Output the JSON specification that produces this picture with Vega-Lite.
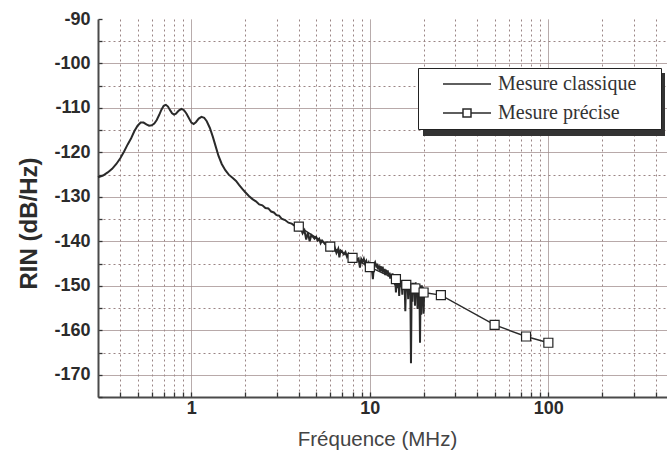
{
  "$schema": "https://vega.github.io/schema/vega-lite/v6.json",
  "width": 569,
  "height": 378,
  "autosize": {"type": "none"},
  "padding": {"left": 98, "top": 19, "right": 0, "bottom": 70},
  "background": "white",
  "config": {"view": {"stroke": null}},
  "datasets": {
    "rin": [
      {"freq": 0.3, "rin": -125.6, "series": "Mesure classique"},
      {"freq": 0.32, "rin": -125.2, "series": "Mesure classique"},
      {"freq": 0.34, "rin": -124.5, "series": "Mesure classique"},
      {"freq": 0.36, "rin": -123.7, "series": "Mesure classique"},
      {"freq": 0.38, "rin": -122.6, "series": "Mesure classique"},
      {"freq": 0.40, "rin": -121.3, "series": "Mesure classique"},
      {"freq": 0.42, "rin": -119.8, "series": "Mesure classique"},
      {"freq": 0.44, "rin": -118.2, "series": "Mesure classique"},
      {"freq": 0.46, "rin": -116.8, "series": "Mesure classique"},
      {"freq": 0.48, "rin": -115.2, "series": "Mesure classique"},
      {"freq": 0.50, "rin": -114.0, "series": "Mesure classique"},
      {"freq": 0.52, "rin": -113.3, "series": "Mesure classique"},
      {"freq": 0.54, "rin": -113.3, "series": "Mesure classique"},
      {"freq": 0.56, "rin": -113.7, "series": "Mesure classique"},
      {"freq": 0.58, "rin": -114.0, "series": "Mesure classique"},
      {"freq": 0.60, "rin": -113.9, "series": "Mesure classique"},
      {"freq": 0.62, "rin": -113.5, "series": "Mesure classique"},
      {"freq": 0.64, "rin": -112.7, "series": "Mesure classique"},
      {"freq": 0.66, "rin": -111.6, "series": "Mesure classique"},
      {"freq": 0.68, "rin": -110.4, "series": "Mesure classique"},
      {"freq": 0.70, "rin": -109.5, "series": "Mesure classique"},
      {"freq": 0.72, "rin": -109.3, "series": "Mesure classique"},
      {"freq": 0.74, "rin": -109.7, "series": "Mesure classique"},
      {"freq": 0.76, "rin": -110.5, "series": "Mesure classique"},
      {"freq": 0.78, "rin": -111.2, "series": "Mesure classique"},
      {"freq": 0.80, "rin": -111.5, "series": "Mesure classique"},
      {"freq": 0.82, "rin": -111.3, "series": "Mesure classique"},
      {"freq": 0.85, "rin": -110.6, "series": "Mesure classique"},
      {"freq": 0.88, "rin": -110.2, "series": "Mesure classique"},
      {"freq": 0.91, "rin": -110.5, "series": "Mesure classique"},
      {"freq": 0.94, "rin": -111.3, "series": "Mesure classique"},
      {"freq": 0.97, "rin": -112.3, "series": "Mesure classique"},
      {"freq": 1.00, "rin": -113.3, "series": "Mesure classique"},
      {"freq": 1.03, "rin": -113.6, "series": "Mesure classique"},
      {"freq": 1.06, "rin": -113.2, "series": "Mesure classique"},
      {"freq": 1.10, "rin": -112.4, "series": "Mesure classique"},
      {"freq": 1.14, "rin": -112.0, "series": "Mesure classique"},
      {"freq": 1.18, "rin": -112.2, "series": "Mesure classique"},
      {"freq": 1.22, "rin": -113.0, "series": "Mesure classique"},
      {"freq": 1.27, "rin": -114.5, "series": "Mesure classique"},
      {"freq": 1.32, "rin": -116.5, "series": "Mesure classique"},
      {"freq": 1.37, "rin": -118.7, "series": "Mesure classique"},
      {"freq": 1.42, "rin": -120.8, "series": "Mesure classique"},
      {"freq": 1.48, "rin": -122.6, "series": "Mesure classique"},
      {"freq": 1.55, "rin": -124.0, "series": "Mesure classique"},
      {"freq": 1.62, "rin": -125.0, "series": "Mesure classique"},
      {"freq": 1.70, "rin": -125.7, "series": "Mesure classique"},
      {"freq": 1.78, "rin": -126.4, "series": "Mesure classique"},
      {"freq": 1.85, "rin": -127.3, "series": "Mesure classique"},
      {"freq": 1.93, "rin": -128.2, "series": "Mesure classique"},
      {"freq": 2.0, "rin": -128.9, "series": "Mesure classique"},
      {"freq": 2.1, "rin": -129.8, "series": "Mesure classique"},
      {"freq": 2.2, "rin": -130.5, "series": "Mesure classique"},
      {"freq": 2.3, "rin": -131.0, "series": "Mesure classique"},
      {"freq": 2.4, "rin": -131.7, "series": "Mesure classique"},
      {"freq": 2.5, "rin": -131.9, "series": "Mesure classique"},
      {"freq": 2.6, "rin": -132.5, "series": "Mesure classique"},
      {"freq": 2.7, "rin": -132.6, "series": "Mesure classique"},
      {"freq": 2.8, "rin": -133.3, "series": "Mesure classique"},
      {"freq": 2.9, "rin": -133.5, "series": "Mesure classique"},
      {"freq": 3.0, "rin": -134.1, "series": "Mesure classique"},
      {"freq": 3.1, "rin": -134.2, "series": "Mesure classique"},
      {"freq": 3.2, "rin": -134.9, "series": "Mesure classique"},
      {"freq": 3.35, "rin": -135.2, "series": "Mesure classique"},
      {"freq": 3.5, "rin": -135.8, "series": "Mesure classique"},
      {"freq": 3.65, "rin": -136.0, "series": "Mesure classique"},
      {"freq": 3.8, "rin": -136.5, "series": "Mesure classique"},
      {"freq": 3.95, "rin": -136.8, "series": "Mesure classique"},
      {"freq": 4.1, "rin": -137.0, "series": "Mesure classique"},
      {"freq": 4.2, "rin": -138.2, "series": "Mesure classique"},
      {"freq": 4.3, "rin": -137.5, "series": "Mesure classique"},
      {"freq": 4.4, "rin": -139.6, "series": "Mesure classique"},
      {"freq": 4.5, "rin": -138.0, "series": "Mesure classique"},
      {"freq": 4.6, "rin": -140.0, "series": "Mesure classique"},
      {"freq": 4.7, "rin": -138.6, "series": "Mesure classique"},
      {"freq": 4.8, "rin": -139.0, "series": "Mesure classique"},
      {"freq": 4.9, "rin": -139.4, "series": "Mesure classique"},
      {"freq": 5.0, "rin": -139.0, "series": "Mesure classique"},
      {"freq": 5.1, "rin": -139.8, "series": "Mesure classique"},
      {"freq": 5.2, "rin": -139.4, "series": "Mesure classique"},
      {"freq": 5.3, "rin": -140.4, "series": "Mesure classique"},
      {"freq": 5.4, "rin": -139.8, "series": "Mesure classique"},
      {"freq": 5.5, "rin": -140.2, "series": "Mesure classique"},
      {"freq": 5.6, "rin": -140.6, "series": "Mesure classique"},
      {"freq": 5.75, "rin": -140.3, "series": "Mesure classique"},
      {"freq": 5.9, "rin": -141.1, "series": "Mesure classique"},
      {"freq": 6.05, "rin": -140.8, "series": "Mesure classique"},
      {"freq": 6.2, "rin": -142.0, "series": "Mesure classique"},
      {"freq": 6.35, "rin": -141.3, "series": "Mesure classique"},
      {"freq": 6.5, "rin": -142.6, "series": "Mesure classique"},
      {"freq": 6.65, "rin": -141.7, "series": "Mesure classique"},
      {"freq": 6.75, "rin": -143.6, "series": "Mesure classique"},
      {"freq": 6.85, "rin": -142.0, "series": "Mesure classique"},
      {"freq": 7.0, "rin": -142.3, "series": "Mesure classique"},
      {"freq": 7.15, "rin": -142.9, "series": "Mesure classique"},
      {"freq": 7.3, "rin": -142.4, "series": "Mesure classique"},
      {"freq": 7.45, "rin": -143.5, "series": "Mesure classique"},
      {"freq": 7.6, "rin": -142.8, "series": "Mesure classique"},
      {"freq": 7.75, "rin": -143.4, "series": "Mesure classique"},
      {"freq": 7.9, "rin": -143.9, "series": "Mesure classique"},
      {"freq": 8.05, "rin": -143.2, "series": "Mesure classique"},
      {"freq": 8.2, "rin": -144.5, "series": "Mesure classique"},
      {"freq": 8.35, "rin": -143.6, "series": "Mesure classique"},
      {"freq": 8.5, "rin": -144.2, "series": "Mesure classique"},
      {"freq": 8.65, "rin": -143.9, "series": "Mesure classique"},
      {"freq": 8.8, "rin": -145.9, "series": "Mesure classique"},
      {"freq": 8.95, "rin": -144.0, "series": "Mesure classique"},
      {"freq": 9.1, "rin": -144.6, "series": "Mesure classique"},
      {"freq": 9.25, "rin": -143.9, "series": "Mesure classique"},
      {"freq": 9.4, "rin": -145.0, "series": "Mesure classique"},
      {"freq": 9.55, "rin": -144.4, "series": "Mesure classique"},
      {"freq": 9.7, "rin": -145.4, "series": "Mesure classique"},
      {"freq": 9.85, "rin": -144.8, "series": "Mesure classique"},
      {"freq": 10.0, "rin": -145.9, "series": "Mesure classique"},
      {"freq": 10.2, "rin": -145.0, "series": "Mesure classique"},
      {"freq": 10.4, "rin": -148.5, "series": "Mesure classique"},
      {"freq": 10.55, "rin": -145.2, "series": "Mesure classique"},
      {"freq": 10.7, "rin": -144.7, "series": "Mesure classique"},
      {"freq": 10.9, "rin": -145.9, "series": "Mesure classique"},
      {"freq": 11.0, "rin": -145.0, "series": "Mesure classique"},
      {"freq": 11.1, "rin": -146.3, "series": "Mesure classique"},
      {"freq": 11.3, "rin": -145.4, "series": "Mesure classique"},
      {"freq": 11.4, "rin": -146.8, "series": "Mesure classique"},
      {"freq": 11.5, "rin": -145.6, "series": "Mesure classique"},
      {"freq": 11.7, "rin": -146.5, "series": "Mesure classique"},
      {"freq": 11.8, "rin": -145.7, "series": "Mesure classique"},
      {"freq": 11.9, "rin": -147.0, "series": "Mesure classique"},
      {"freq": 12.1, "rin": -146.2, "series": "Mesure classique"},
      {"freq": 12.2, "rin": -147.6, "series": "Mesure classique"},
      {"freq": 12.3, "rin": -146.4, "series": "Mesure classique"},
      {"freq": 12.5, "rin": -147.3, "series": "Mesure classique"},
      {"freq": 12.6, "rin": -146.5, "series": "Mesure classique"},
      {"freq": 12.7, "rin": -147.9, "series": "Mesure classique"},
      {"freq": 12.9, "rin": -147.0, "series": "Mesure classique"},
      {"freq": 13.0, "rin": -148.4, "series": "Mesure classique"},
      {"freq": 13.1, "rin": -147.3, "series": "Mesure classique"},
      {"freq": 13.3, "rin": -148.1, "series": "Mesure classique"},
      {"freq": 13.4, "rin": -147.2, "series": "Mesure classique"},
      {"freq": 13.5, "rin": -148.7, "series": "Mesure classique"},
      {"freq": 13.7, "rin": -149.3, "series": "Mesure classique"},
      {"freq": 13.85, "rin": -147.8, "series": "Mesure classique"},
      {"freq": 14.0, "rin": -151.5, "series": "Mesure classique"},
      {"freq": 14.15, "rin": -148.0, "series": "Mesure classique"},
      {"freq": 14.3, "rin": -150.5, "series": "Mesure classique"},
      {"freq": 14.45, "rin": -148.3, "series": "Mesure classique"},
      {"freq": 14.6, "rin": -152.3, "series": "Mesure classique"},
      {"freq": 14.75, "rin": -148.6, "series": "Mesure classique"},
      {"freq": 14.9, "rin": -150.3, "series": "Mesure classique"},
      {"freq": 15.05, "rin": -148.7, "series": "Mesure classique"},
      {"freq": 15.2, "rin": -152.0, "series": "Mesure classique"},
      {"freq": 15.35, "rin": -148.7, "series": "Mesure classique"},
      {"freq": 15.5, "rin": -150.6, "series": "Mesure classique"},
      {"freq": 15.65, "rin": -148.9, "series": "Mesure classique"},
      {"freq": 15.8, "rin": -155.7, "series": "Mesure classique"},
      {"freq": 15.95, "rin": -149.0, "series": "Mesure classique"},
      {"freq": 16.1, "rin": -151.2, "series": "Mesure classique"},
      {"freq": 16.25, "rin": -149.0, "series": "Mesure classique"},
      {"freq": 16.4, "rin": -153.0, "series": "Mesure classique"},
      {"freq": 16.55, "rin": -149.3, "series": "Mesure classique"},
      {"freq": 16.7, "rin": -151.8, "series": "Mesure classique"},
      {"freq": 16.85, "rin": -149.2, "series": "Mesure classique"},
      {"freq": 17.0, "rin": -167.4, "series": "Mesure classique"},
      {"freq": 17.15, "rin": -149.5, "series": "Mesure classique"},
      {"freq": 17.3, "rin": -153.6, "series": "Mesure classique"},
      {"freq": 17.45, "rin": -149.3, "series": "Mesure classique"},
      {"freq": 17.6, "rin": -151.9, "series": "Mesure classique"},
      {"freq": 17.75, "rin": -149.4, "series": "Mesure classique"},
      {"freq": 17.9, "rin": -154.5, "series": "Mesure classique"},
      {"freq": 18.05, "rin": -149.2, "series": "Mesure classique"},
      {"freq": 18.2, "rin": -152.4, "series": "Mesure classique"},
      {"freq": 18.35, "rin": -149.6, "series": "Mesure classique"},
      {"freq": 18.5, "rin": -155.2, "series": "Mesure classique"},
      {"freq": 18.65, "rin": -149.5, "series": "Mesure classique"},
      {"freq": 18.8, "rin": -151.8, "series": "Mesure classique"},
      {"freq": 18.95, "rin": -149.8, "series": "Mesure classique"},
      {"freq": 19.1, "rin": -162.8, "series": "Mesure classique"},
      {"freq": 19.25, "rin": -150.0, "series": "Mesure classique"},
      {"freq": 19.4, "rin": -156.5, "series": "Mesure classique"},
      {"freq": 19.55, "rin": -149.9, "series": "Mesure classique"},
      {"freq": 19.7, "rin": -153.2, "series": "Mesure classique"},
      {"freq": 19.85, "rin": -150.3, "series": "Mesure classique"},
      {"freq": 20.0, "rin": -156.3, "series": "Mesure classique"},
      {"freq": 20.15, "rin": -151.0, "series": "Mesure classique"},
      {"freq": 4, "rin": -136.7, "series": "Mesure précise"},
      {"freq": 6, "rin": -141.2, "series": "Mesure précise"},
      {"freq": 8, "rin": -143.7, "series": "Mesure précise"},
      {"freq": 10, "rin": -145.8, "series": "Mesure précise"},
      {"freq": 14, "rin": -148.5, "series": "Mesure précise"},
      {"freq": 16, "rin": -149.8, "series": "Mesure précise"},
      {"freq": 18, "rin": -150.6, "series": "Mesure précise"},
      {"freq": 20, "rin": -151.5, "series": "Mesure précise"},
      {"freq": 25, "rin": -152.1, "series": "Mesure précise"},
      {"freq": 50, "rin": -158.8, "series": "Mesure précise"},
      {"freq": 75, "rin": -161.4, "series": "Mesure précise"},
      {"freq": 100, "rin": -162.8, "series": "Mesure précise"}
    ]
  },
  "data": {"name": "rin"},
  "encoding": {
    "x": {
      "field": "freq",
      "type": "quantitative",
      "scale": {"type": "log", "domain": [0.3, 462], "nice": false},
      "axis": {
        "title": "Fréquence (MHz)",
        "titleX": 279,
        "values": [0.4, 0.5, 0.6, 0.7, 0.8, 0.9, 1, 2, 3, 4, 5, 6, 7, 8, 9, 10, 20, 30, 40, 50, 60, 70, 80, 90, 100, 200, 300, 400],
        "format": "~g",
        "labelExpr": "datum.value == 1 || datum.value == 10 || datum.value == 100 ? datum.label : ''",
        "labelOverlap": false,
        "labelFlush": false,
        "labelFont": "Liberation Sans",
        "labelFontWeight": "bold",
        "labelFontSize": 18,
        "labelColor": "#2b2b2b",
        "labelPadding": 7,
        "tickSize": -5,
        "tickColor": "#333333",
        "tickWidth": 1.3,
        "domainColor": "#4a4a4a",
        "domainWidth": 2,
        "grid": true,
        "gridColor": {"condition": {"test": "datum.value == 1 || datum.value == 10 || datum.value == 100", "value": "#a09090"}, "value": "#9a8585"},
        "gridDash": {"condition": {"test": "datum.value == 1 || datum.value == 10 || datum.value == 100", "value": [1, 0]}, "value": [2, 3]},
        "gridWidth": 1,
        "titleFont": "Liberation Sans",
        "titleFontSize": 20.5,
        "titleFontWeight": "normal",
        "titleColor": "#444444",
        "titlePadding": 12
      }
    },
    "y": {
      "field": "rin",
      "type": "quantitative",
      "scale": {"domain": [-175, -90], "nice": false, "zero": false},
      "axis": {
        "title": "RIN (dB/Hz)",
        "titleY": 204,
        "values": [-175, -170, -165, -160, -155, -150, -145, -140, -135, -130, -125, -120, -115, -110, -105, -100, -95, -90],
        "labelExpr": "datum.value % 10 == 0 ? '' + datum.value : ''",
        "labelOverlap": false,
        "labelFlush": false,
        "labelFont": "Liberation Sans",
        "labelFontWeight": "bold",
        "labelFontSize": 18,
        "labelColor": "#2b2b2b",
        "labelPadding": 12,
        "tickSize": -4,
        "tickColor": "#333333",
        "tickWidth": 1.3,
        "domainColor": "#4a4a4a",
        "domainWidth": 2,
        "grid": true,
        "gridColor": {"condition": [{"test": "datum.value == -90 || datum.value == -175", "value": "transparent"}, {"test": "datum.value % 10 == 0", "value": "#a08c8c"}], "value": "#9a8585"},
        "gridDash": {"condition": {"test": "datum.value % 10 == 0", "value": [1, 0]}, "value": [2, 3]},
        "gridWidth": 1,
        "titleFont": "Liberation Sans",
        "titleFontSize": 24,
        "titleFontWeight": "bold",
        "titleColor": "#2b2b2b",
        "titlePadding": 12
      }
    }
  },
  "layer": [
    {
      "mark": {"type": "line"},
      "encoding": {
        "strokeWidth": {
          "field": "series",
          "type": "ordinal",
          "scale": {"domain": ["Mesure classique", "Mesure précise"], "range": [2, 1.4]},
          "legend": null
        },
        "color": {
          "field": "series",
          "type": "nominal",
          "scale": {"domain": ["Mesure classique", "Mesure précise"], "range": ["#2a2a2a", "#2a2a2a"]},
          "legend": {
            "orient": "none",
            "legendX": 320,
            "legendY": 49,
            "title": "MM",
            "titleOrient": "right",
            "titleColor": "transparent",
            "titleFont": "Liberation Serif",
            "titleFontSize": 10,
            "titlePadding": 0,
            "fillColor": "#ffffff",
            "strokeColor": "#222222",
            "padding": 6,
            "rowPadding": 9,
            "labelFont": "Liberation Serif",
            "labelFontSize": 20,
            "labelColor": "#333333",
            "symbolSize": 100,
            "symbolOffset": 33,
            "labelOffset": 21,
            "zindex": 2,
            "encode": {
              "symbols": {
                "update": {
                  "shape": {"signal": "datum.value == 'Mesure précise' ? 'M-4.8,0H-0.8M0.8,0H4.8M-0.8,-0.8H0.8V0.8H-0.8Z' : 'M-4.8,0H4.8'"},
                  "fill": {"value": "#ffffff"},
                  "stroke": {"value": "#222222"},
                  "strokeWidth": {"value": 1.5}
                }
              }
            }
          }
        }
      }
    },
    {
      "transform": [{"filter": "datum.series == 'Mesure précise'"}],
      "mark": {"type": "point", "shape": "square", "filled": true, "fill": "#ffffff", "stroke": "#222222", "strokeWidth": 1.2, "size": 81, "opacity": 1}
    },
    {
      "mark": {"type": "point", "opacity": 0, "filled": true},
      "encoding": {
        "color": {
          "field": "rin",
          "type": "quantitative",
          "scale": {"range": ["#333333", "#333333"]},
          "legend": {
            "orient": "none",
            "legendX": 325,
            "legendY": 54,
            "title": null,
            "direction": "horizontal",
            "gradientLength": 242,
            "gradientThickness": 63,
            "gradientStrokeColor": "#333333",
            "gradientStrokeWidth": 0,
            "padding": 0,
            "labelExpr": "''",
            "labelOpacity": 0,
            "zindex": 1
          }
        }
      }
    }
  ],
  "resolve": {"scale": {"color": "independent"}}
}
